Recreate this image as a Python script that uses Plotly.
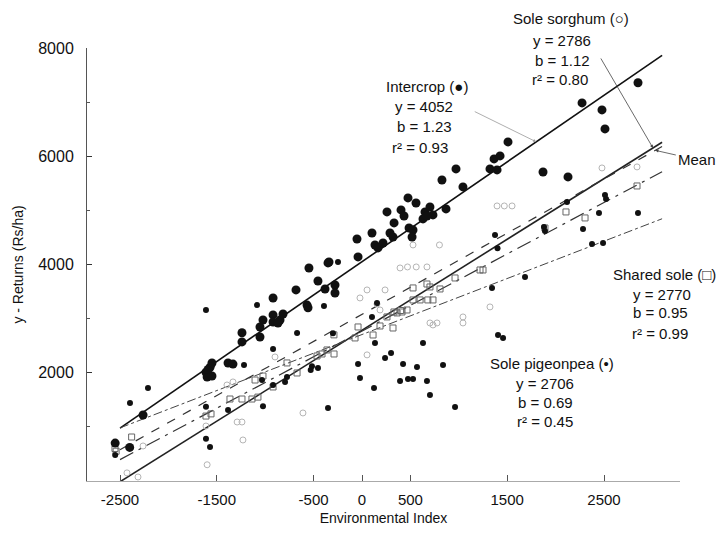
import numpy as np
import plotly.graph_objects as go

# ---------------- data ----------------
intercrop_x = [-2550, -2400, -2262, -1612, -1600, -1570, -1550, -1590, -1550, -1384, -1333,
               -1240, -1240, -1054, -1054, -1023, -919, -919, -847, -919, -816, -868,
               -682, -568, -558, -548, -455, -382, -351, -279, -279, -341, -52, -41,
               103, 134, 165, 217, 258, 289, 320, 331, 403, 434, 475, 558, 651, 702, 733, 630, 671,
               868, 486, 527, 517, 826, 971, 1043, 1322, 1395, 1364, 1426, 1508,
               1870, 2128, 2273, 2479, 2510, 2851]
intercrop_y = [700, 620, 1220, 2010, 1920, 2100, 1940, 2060, 2180, 2180, 2160,
               2740, 2570, 2660, 2846, 2975, 3382, 3068, 2975, 2938, 3086, 2920,
               3530, 3250, 3200, 3936, 3696, 3548, 4029, 3622, 3474, 4047, 4472, 4140,
               4583, 4361, 4306, 4398, 4971, 4583, 4509, 4768, 5008, 4897, 5230, 5137, 4971, 5063, 4916, 4842, 4897,
               5027, 4675, 4638, 4509, 5562, 5766, 5433, 5766, 5747, 5951, 6006, 6265,
               5710, 5618, 6986, 6856, 6505, 7357]

pigeonpea_x = [-2550, -2397, -2211, -1612, -1612, -1612, -1570, -1384, -1219, -1085, -1033, -1023,
               -919, -795, -919, -775, -671, -517, -455, -530, -393, -300, -351, -248,
               -41, -21, 103, 124, 134, 155, 238, 300, 393, 424, 475, 527, 568, 630, 671, 702, 837, 961,
               1343, 1374, 1400, 1405, 1457, 1684, 1880, 1890, 2118, 2283, 2376, 2448, 2490, 2510, 2521, 2851]
pigeonpea_y = [480, 1441, 1720, 3160, 1370, 780, 630, 1312, 2144, 3250, 1866, 1380,
               2439, 1830, 1774, 1922, 2735, 2120, 2090, 2050, 3234, 2730, 1349, 4047,
               2162, 1903, 3030, 1719, 2550, 3290, 2273, 2365, 1848, 2162, 1885, 1885, 2107, 2550, 1848, 1589, 2144, 1368,
               3567, 4546, 4300, 2698, 2643, 3770, 4694, 4620, 5156, 4657, 4380, 4953, 4398, 5285, 5211, 4952]

sorghum_x = [-2428, -2314, -2262, -1612, -1600, -1395, -1333, -1290, -1240, -1230, -899, -610,
             -21, 52, 52, 155, 186, 238, 393, 470, 560, 671, 527, 800, 702, 775, 733, 1043, 1043,
             1322, 1395, 1470, 1550, 2479, 2841]
sorghum_y = [150, 74, 647, 1016, 300, 1774, 1830, 1090, 1090, 758, 2292, 1257,
             3382, 3530, 2330, 3270, 3160, 3530, 3936, 3955, 3955, 3955, 4361, 4361, 2920, 2920, 2883, 2920, 3031,
             3216, 5082, 5082, 5082, 5784, 5803]

shared_x = [-2552, -2540, -2380, -1612, -1560, -1364, -1240, -1137, -1075, -1023, -1105, -919,
            -775, -671, -465, -413, -362, -289, -290, -72, -41, 114, 186, 258, 320, 362, 413, 465,
            330, 400, 527, 600, 680, 733, 527, 671, 702, 806, 961, 1219, 1250, 1890, 2107, 2304, 2841]
shared_y = [600, 550, 813, 1200, 1240, 1515, 1515, 1515, 1550, 1940, 1866, 1737,
            2181, 1996, 2310, 2347, 2421, 2347, 2700, 2643, 2846, 2698, 2864, 3031, 2827, 3105, 3123, 3160,
            3123, 3150, 3345, 3345, 3345, 3345, 3567, 3640, 3585, 3548, 3751, 3899, 3899, 4675, 4971, 4860, 5451]

# regression coefficients (intercept a, slope b)
line_names = ["Intercrop", "Sole sorghum", "Shared sole", "Sole pigeonpea", "Mean"]
line_a = [4052, 2786, 2770, 2706, 3079]
line_b = [1.23, 1.12, 0.95, 0.69, 1.00]
line_x_range = [-2500, 3100]

x_tickvals = [-2500, -1500, -500, 0, 500, 1500, 2500]
x_ticktext = ["-2500", "-1500", "-500", "0", "500", "1500", "2500"]
y_tickvals = [2000, 4000, 6000, 8000]
y_ticktext = ["2000", "4000", "6000", "8000"]

# ---------------- figure ----------------
# the page adds an 8 px body margin on every side, so the figure is drawn
# 16 px smaller than the window and everything is offset by 8 px
OFF = 8
W, H = 727 - 2 * OFF, 534 - 2 * OFF
ML, MT = 87 - OFF, 48 - OFF
MR = W - (680 - OFF)
MB = H - (481 - OFF)
fig = go.Figure()

dash_styles = ["solid", "solid", "longdashdot", "dashdot", "dash"]
widths = [1.6, 1.6, 1.2, 1.0, 1.2]
colors = ["#111", "#222", "#333", "#444", "#333"]
xs = np.array(line_x_range, dtype=float)
for name, a, b, d, w, c in zip(line_names, line_a, line_b, dash_styles, widths, colors):
    fig.add_trace(go.Scatter(x=xs, y=a + b * xs, mode="lines", name=name,
                             line=dict(color=c, width=w, dash=d), hoverinfo="skip"))

fig.add_trace(go.Scatter(x=sorghum_x, y=sorghum_y, mode="markers", name="Sole sorghum",
                         marker=dict(symbol="circle-open", size=6, color="#b5b5b5", line=dict(width=1))))
fig.add_trace(go.Scatter(x=shared_x, y=shared_y, mode="markers", name="Shared sole",
                         marker=dict(symbol="square-open", size=6, color="#666", line=dict(width=1))))
fig.add_trace(go.Scatter(x=pigeonpea_x, y=pigeonpea_y, mode="markers", name="Sole pigeonpea",
                         marker=dict(symbol="circle", size=6, color="#111")))
fig.add_trace(go.Scatter(x=intercrop_x, y=intercrop_y, mode="markers", name="Intercrop",
                         marker=dict(symbol="circle", size=9, color="#111")))

pw, ph = W - ML - MR, H - MT - MB


def px(xp, yp):
    # screenshot pixel position -> paper coordinates
    return (xp - OFF - ML) / pw, (H - MB - (yp - OFF)) / ph


FONT = dict(family="Liberation Sans, Arial, sans-serif", size=15, color="#111")


def label(text, xp, yp, anchor="center"):
    x, y = px(xp, yp)
    fig.add_annotation(text=text, x=x, y=y, xref="paper", yref="paper", showarrow=False,
                       xanchor=anchor, yanchor="middle", font=FONT)


# Sole sorghum block
label("Sole sorghum (○)", 571, 18)
label("y = 2786", 562, 40)
label("b = 1.12", 562, 60)
label("r² = 0.80", 560, 79)
# Intercrop block
label("Intercrop (●)", 427, 87)
label("y = 4052", 424, 107)
label("b = 1.23", 424, 127)
label("r² = 0.93", 420, 147)
# Shared sole block
label("Shared sole (□)", 718, 274, anchor="right")
label("y = 2770", 693, 294, anchor="right")
label("b = 0.95", 690, 313, anchor="right")
label("r² = 0.99", 690, 333, anchor="right")
# Sole pigeonpea block
label("Sole pigeonpea (•)", 552, 364)
label("y = 2706", 545, 383)
label("b = 0.69", 545, 402)
label("r² = 0.45", 545, 421)
# Mean
label("Mean", 718, 159, anchor="right")

# leader arrows
ia, ib = line_a[0], line_b[0]
fig.add_annotation(x=1800, y=ia + ib * 1800, ax=-63, ay=-31, showarrow=True, text="",
                   arrowhead=2, arrowsize=0.8, arrowwidth=0.8, arrowcolor="#999")
sa, sb = line_a[1], line_b[1]
fig.add_annotation(x=3006, y=sa + sb * 3006, ax=-53, ay=-91, showarrow=True, text="",
                   arrowhead=2, arrowsize=0.8, arrowwidth=0.8, arrowcolor="#444")
ma, mb = line_a[4], line_b[4]
fig.add_annotation(x=3030, y=ma + mb * 3030, ax=22, ay=5, showarrow=True, text="",
                   arrowhead=2, arrowsize=0.8, arrowwidth=0.8, arrowcolor="#444")

fig.update_layout(
    width=W, height=H, margin=dict(l=ML, r=MR, t=MT, b=MB, autoexpand=False),
    plot_bgcolor="white", paper_bgcolor="white", showlegend=False,
    font=FONT,
    xaxis=dict(range=[-2841, 3285], tickvals=x_tickvals, ticktext=x_ticktext,
               ticks="inside", ticklen=6, tickcolor="#555", showline=True, linecolor="#aaa",
               showgrid=False, zeroline=False, ticklabelstandoff=5, automargin=False,
               title=dict(text="Environmental Index", standoff=15, font=dict(size=14))),
    yaxis=dict(range=[0, 8000], tickvals=y_tickvals, ticktext=y_ticktext,
               ticks="inside", ticklen=5, tickcolor="#333", showline=True, linecolor="#555",
               showgrid=False, zeroline=False, ticklabelstandoff=9, automargin=False,
               tickfont=dict(size=16),
               minor=dict(tickvals=[1000, 3000, 5000, 7000], ticks="inside", ticklen=3, tickcolor="#555"),
               title=dict(text="y - Returns (Rs/ha)", standoff=11, font=dict(size=14))),
)

fig.write_html("out.html")
